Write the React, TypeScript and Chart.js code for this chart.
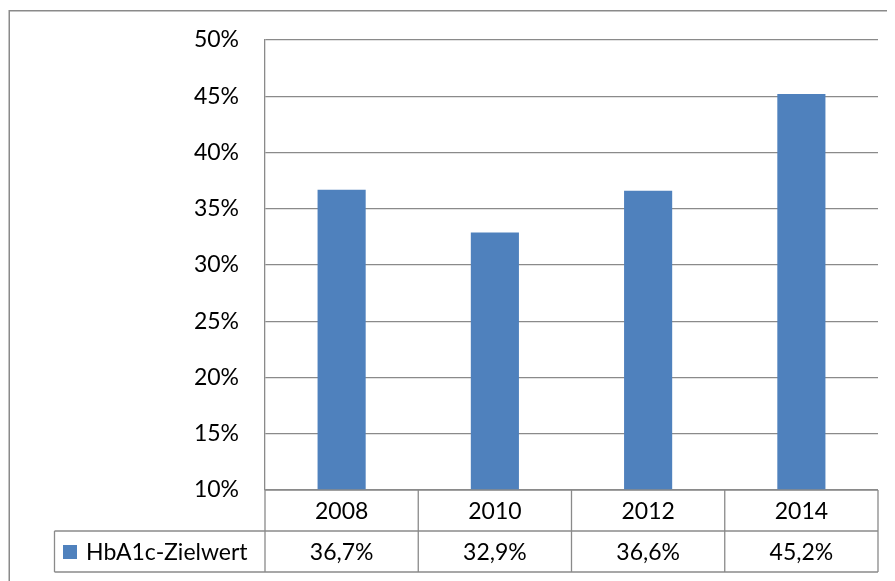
import React, { useEffect, useRef } from "react";
import { Chart, registerables } from "chart.js";

Chart.register(...registerables);

const categories: string[] = ["2008", "2010", "2012", "2014"];
const seriesName = "HbA1c-Zielwert";
const values: number[] = [36.7, 32.9, 36.6, 45.2];
const yMin = 10;
const yMax = 50;
const yStep = 5;

const FONT = "Lato, 'Open Sans', sans-serif";
const FONT_SIZE = 23;
const BAR_COLOR = "#4F81BD";
const LINE_COLOR = "#8A8A8A";

const fmt = (v: number) => v.toFixed(1).replace(".", ",") + "%";

const tablePlugin = {
  id: "dataTable",
  beforeDraw(chart: any) {
    const ctx = chart.ctx;
    ctx.save();
    ctx.fillStyle = "#ffffff";
    ctx.fillRect(0, 0, chart.width, chart.height);
    ctx.strokeStyle = LINE_COLOR;
    ctx.lineWidth = 1.5;
    ctx.strokeRect(1.25, 2.75, chart.width + 20, chart.height + 20);
    ctx.restore();
  },
  afterDraw(chart: any) {
    const ctx = chart.ctx;
    const area = chart.chartArea;
    const xs = chart.scales.x;
    const rowH = 41;
    const top = area.bottom;
    const mid = top + rowH;
    const bot = mid + rowH;
    const legendLeft = 46.5;
    const n = categories.length;
    const colW = (area.right - area.left) / n;

    ctx.save();
    ctx.strokeStyle = LINE_COLOR;
    ctx.lineWidth = 1.3;
    ctx.beginPath();
    ctx.moveTo(area.left, top);
    ctx.lineTo(area.right, top);
    ctx.moveTo(legendLeft, mid);
    ctx.lineTo(area.right, mid);
    ctx.moveTo(legendLeft, bot);
    ctx.lineTo(area.right, bot);
    for (let i = 0; i <= n; i++) {
      const x = area.left + i * colW;
      ctx.moveTo(x, top);
      ctx.lineTo(x, bot);
    }
    ctx.moveTo(legendLeft, mid);
    ctx.lineTo(legendLeft, bot);
    ctx.stroke();

    ctx.fillStyle = "#000000";
    ctx.font = `${FONT_SIZE}px ${FONT}`;
    ctx.textAlign = "center";
    ctx.textBaseline = "middle";
    categories.forEach((c, i) => {
      const cx = xs.getPixelForValue(i);
      ctx.fillText(c, cx, (top + mid) / 2 + 1);
      ctx.fillText(fmt(values[i]), cx, (mid + bot) / 2 + 1);
    });

    ctx.fillStyle = BAR_COLOR;
    ctx.fillRect(55, mid + 14, 14, 14);
    ctx.fillStyle = "#000000";
    ctx.textAlign = "left";
    ctx.fillText(seriesName, 78, (mid + bot) / 2 + 1);
    ctx.restore();
  },
};

export default function App() {
  const ref = useRef<HTMLCanvasElement | null>(null);

  useEffect(() => {
    if (!ref.current) return;
    Chart.defaults.font.family = FONT;
    const chart = new Chart(ref.current, {
      type: "bar",
      data: {
        labels: categories,
        datasets: [
          {
            label: seriesName,
            data: values,
            backgroundColor: BAR_COLOR,
            borderWidth: 0,
            categoryPercentage: 1,
            barPercentage: 0.314,
          },
        ],
      },
      options: {
        responsive: false,
        animation: false,
        devicePixelRatio: 1,
        layout: { padding: { left: 0, top: 32, right: 17, bottom: 91 } },
        plugins: {
          legend: { display: false },
          tooltip: { enabled: false },
        },
        scales: {
          x: {
            display: false,
            offset: true,
          },
          y: {
            min: yMin,
            max: yMax,
            afterFit: (scale: any) => {
              scale.width = 257;
              scale.paddingTop = 0;
              scale.paddingBottom = 0;
            },
            ticks: {
              stepSize: yStep,
              padding: 26,
              color: "#000000",
              font: { size: FONT_SIZE, family: FONT },
              callback: (v: any) => `${v}%`,
            },
            grid: {
              color: LINE_COLOR,
              lineWidth: 1.3,
              drawTicks: false,
            },
            border: { display: true, color: LINE_COLOR, width: 1.3 },
          },
        },
      },
      plugins: [tablePlugin],
    });
    return () => chart.destroy();
  }, []);

  return <canvas ref={ref} width={887} height={573} style={{ display: "block" }} />;
}
